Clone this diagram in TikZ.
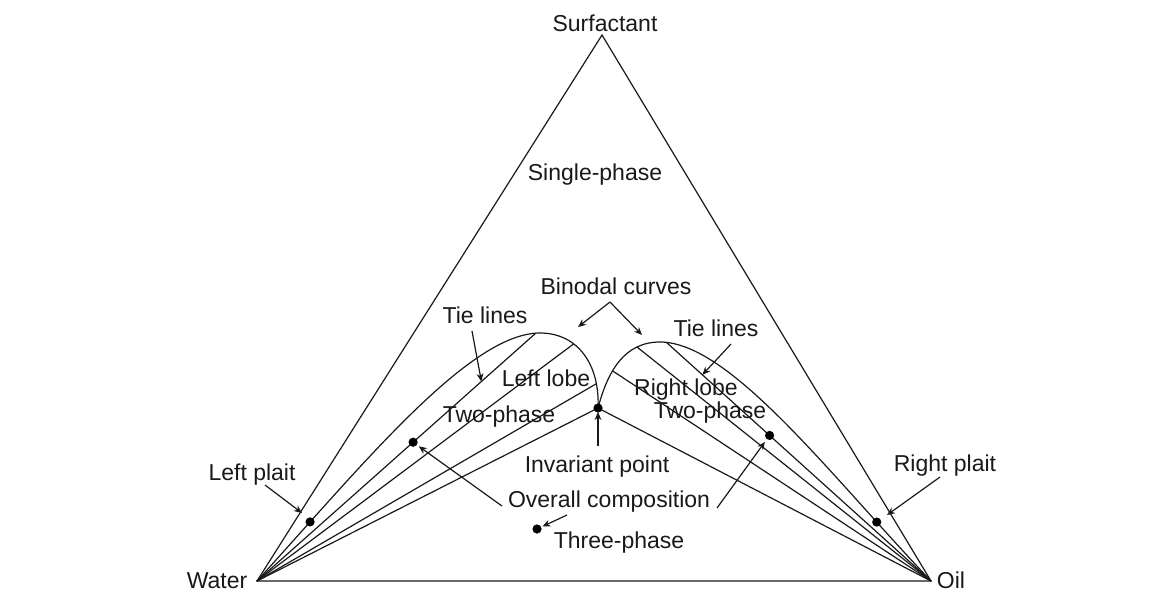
\documentclass[tikz,border=0pt]{standalone}
\usepackage{fontspec}
\setmainfont{Liberation Sans}
\usetikzlibrary{arrows.meta}
\begin{document}
\begin{tikzpicture}[x=0.5pt,y=-0.5pt,
  edge/.style={line width=0.6pt, draw=black!90},
  lbl/.style={font=\fontsize{11.5}{13}\selectfont, inner sep=0pt, text height=8.2pt, text depth=0pt, text=black!90},
  ptr/.style={line width=0.6pt, draw=black!90, -{Stealth[length=4pt,width=3.4pt]}},
  dot/.style={circle, fill=black, inner sep=0pt, minimum size=4.6pt}]
\useasboundingbox (0,0) rectangle (1165,590);
% vertices and key points
\coordinate (W) at (257,581);
\coordinate (O) at (931,581);
\coordinate (S) at (602,35);
\coordinate (I) at (598,408);
\coordinate (P) at (540,333);
\coordinate (Q) at (660,342);
% triangle
\draw[edge, line join=miter] (W) -- (S) -- (O) -- cycle;
% left binodal
\draw[edge] (W) .. controls (365,462) and (470,333) .. (P) coordinate[pos=0.165] (LP) coordinate[pos=0.98] (L1)
  .. controls (578,333) and (600,365) .. (I) coordinate[pos=0.35] (L2) coordinate[pos=0.8] (L3);
% right binodal
\draw[edge] (I) .. controls (608,370) and (625,342) .. (Q) coordinate[pos=0.37] (R3) coordinate[pos=0.75] (R2)
  .. controls (730,342) and (830,475) .. (O) coordinate[pos=0.03] (R1) coordinate[pos=0.82] (RP);
% tie lines
\foreach \e in {L1,L2,L3,I} \draw[edge] (W) -- (\e);
\foreach \e in {R1,R2,R3,I} \draw[edge] (O) -- (\e);
\path (W) -- (L1) coordinate[pos=0.56] (LC) coordinate[pos=0.805] (LT);
\path (O) -- (R1) coordinate[pos=0.61] (RC) coordinate[pos=0.864] (RT);
\coordinate (T) at (537,529);
% dots
\node[dot] (dLP) at (LP) {};
\node[dot] (dRP) at (RP) {};
\node[dot] (dLC) at (LC) {};
\node[dot] (dRC) at (RC) {};
\node[dot] (dI) at (I) {};
\node[dot] (dT) at (T) {};
% labels
\node[lbl] (surf) at (605,23) {Surfactant};
\node[lbl] (single) at (595,172) {Single-phase};
\node[lbl] (bin) at (616,286) {Binodal curves};
\node[lbl] (tiel) at (485,315) {Tie lines};
\node[lbl] (tier) at (716,328) {Tie lines};
\node[lbl] (llobe) at (546,378) {Left lobe};
\node[lbl] (ltwo) at (499,414) {Two-phase};
\node[lbl] (rlobe) at (686,387) {Right lobe};
\node[lbl] (rtwo) at (710,410) {Two-phase};
\node[lbl] (inv) at (597,464) {Invariant point};
\node[lbl] (overall) at (609,499) {Overall composition};
\node[lbl] (three) at (619,540) {Three-phase};
\node[lbl] (lplait) at (252,472) {Left plait};
\node[lbl] (rplait) at (945,463) {Right plait};
\node[lbl] (water) at (217,580) {Water};
\node[lbl] (oil) at (951,580) {Oil};
% arrow anchors
\coordinate (binA) at (610,302);
\coordinate (binL) at (578,327);
\coordinate (binR) at (642,335);
\coordinate (tlA) at (472,331);
\coordinate (trA) at (731,344);
\coordinate (invA) at (598,446);
\coordinate (ocL) at (502,506);
\coordinate (ocR) at (717,508);
\coordinate (thA) at (567,515);
\coordinate (lpA) at (265,485);
\coordinate (lpT) at (302,513);
\coordinate (rpA) at (940,477);
\coordinate (rpT) at (887,515);
% arrows
\draw[ptr] (binA) -- (binL);
\draw[ptr] (binA) -- (binR);
\draw[ptr] (tlA) -- (LT);
\draw[ptr] (trA) -- (RT);
\draw[ptr, shorten >=2pt] (invA) -- (I);
\draw[ptr, shorten >=3.5pt] (ocL) -- (LC);
\draw[ptr, shorten >=4pt] (ocR) -- (RC);
\draw[ptr, shorten >=3pt] (thA) -- (T);
\draw[ptr] (lpA) -- (lpT);
\draw[ptr] (rpA) -- (rpT);
\end{tikzpicture}
\end{document}
